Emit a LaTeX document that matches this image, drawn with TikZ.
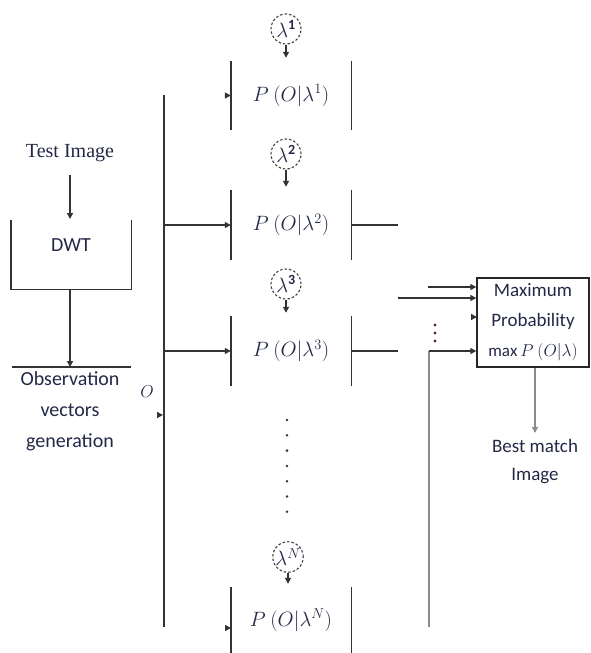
\documentclass[tikz,border=0pt]{standalone}
\usepackage{fontspec}
\setmainfont{Carlito}
\newfontfamily\serifface{Liberation Serif}
\usetikzlibrary{arrows.meta}
\definecolor{txt}{RGB}{35,40,70}
\definecolor{dotc}{RGB}{90,40,90}
\begin{document}
\begin{tikzpicture}[x=1pt,y=-1pt,
  ln/.style={line width=1.4pt, draw=black!80},
  gln/.style={line width=1.4pt, draw=black!45},
  tip/.style={-{Triangle[length=6pt,width=6pt]}},
  lam/.style={circle, draw=black!75, dash pattern=on 2.5pt off 2pt, line width=1.1pt, minimum size=30pt, inner sep=0pt, text=txt, font=\fontsize{20}{20}\selectfont},
  lbl/.style={font=\fontsize{20}{31}\selectfont, text=txt, align=center},
  pbox/.style={minimum width=120pt, inner sep=0pt, text=txt, font=\fontsize{20}{23}\selectfont},
]
\useasboundingbox (0,0) rectangle (590,653);

% left column
\node[lbl, font=\serifface\fontsize{20}{23}\selectfont] (test) at (70,153) {Test Image};
\node[minimum width=120pt, minimum height=69pt, inner sep=0pt] (dwt) at (71,254.5) {};
\node[lbl] (dwtlbl) at (71,245) {DWT};
\draw[ln] (dwt.north west) -- (dwt.south west) -- (dwt.south east) -- (dwt.north east);
\coordinate (dwttop) at (70,219);
\draw[ln,tip] (test.south -| dwttop) ++(0,-10pt) -- (dwttop);
\coordinate (obsL) at (12,367);
\coordinate (obsR) at (131,367);
\coordinate (obsM) at (70,367);
\draw[ln] (obsL) -- (obsR);
\draw[ln,tip] (dwt.south -| obsM) -- (obsM);
\node[lbl, anchor=north] (obs) at (70,368) {Observation\\vectors\\generation};
\node[text=txt, font=\fontsize{19}{23}\selectfont] (olab) at (147,392) {$O$};

% bus
\coordinate (bustop) at (164,95);
\coordinate (busbot) at (164,627);
\draw[ln] (bustop) -- (busbot);
\coordinate (oarr) at (163,415);
\draw[ln,tip] ([xshift=-6pt]oarr) -- (oarr);

% probability boxes
\node[pbox, minimum height=69pt] (b1) at (291,95.5) {$P\ (O|\lambda^{1})$};
\node[pbox, minimum height=70pt] (b2) at (291,225) {$P\ (O|\lambda^{2})$};
\node[pbox, minimum height=70pt] (b3) at (291,351) {$P\ (O|\lambda^{3})$};
\node[pbox, minimum height=66pt] (bN) at (291,620) {$P\ (O|\lambda^{N})$};
\foreach \b in {b1,b2,b3,bN}{
  \draw[ln] (\b.north west) -- (\b.south west);
  \draw[ln] (\b.north east) -- (\b.south east);
}

% lambda circles
\node[lam] (l1) at (286,29) {$\lambda^{\mathbf{1}}$};
\node[lam] (l2) at (286,154) {$\lambda^{\mathbf{2}}$};
\node[lam] (l3) at (286,284) {$\lambda^{\mathbf{3}}$};
\node[lam] (lN) at (288,557) {$\lambda^{N}$};
\draw[ln,tip] (l1.south) -- ([yshift=3pt]l1.south |- b1.north);
\draw[ln,tip] (l2.south) -- ([yshift=3pt]l2.south |- b2.north);
\draw[ln,tip] (l3.south) -- ([yshift=3pt]l3.south |- b3.north);
\draw[ln,tip] (lN.south) -- ([yshift=3pt]lN.south |- bN.north);

% inputs to boxes
\draw[ln,tip] ([xshift=-6pt]b1.west) -- (b1.west);
\draw[ln,tip] (bustop |- b2.west) -- (b2.west);
\draw[ln,tip] (bustop |- b3.west) -- (b3.west);
\coordinate (bNin) at (231,628);
\draw[ln,tip] ([xshift=-6pt]bNin) -- (bNin);

% outputs
\coordinate (o2) at (398,225);
\coordinate (o3) at (398,351);
\draw[ln] (b2.east) -- (o2);
\draw[ln] (b3.east) -- (o3);

% middle dots
\foreach \i in {0,...,6}{
  \fill[black!80] (287,420+15.3*\i) circle (1.4pt);
}

% maximum box
\node[draw=black!85, line width=1.4pt, minimum width=112pt, minimum height=89pt, inner sep=0pt,
      text=txt, align=center, font=\fontsize{19}{30}\selectfont] (maxb) at (533,322.5)
  {Maximum\\Probability\\{\fontsize{17}{17}\selectfont$\max P\ (O|\lambda)$}};

\coordinate (m1) at (428,287);
\coordinate (m2) at (398,298);
\coordinate (m3) at (429,351);
\coordinate (m3b) at (429,627);
\draw[ln,tip] (m1) -- (m1 -| maxb.west);
\draw[ln,tip] (m2) -- (m2 -| maxb.west);
\coordinate (m4) at (477,317);
\draw[ln,tip] ([xshift=-6pt]m4) -- (m4);
\draw[gln] (m3b) -- (m3);
\draw[ln,tip] (m3) -- (m3 -| maxb.west);

% right dots
\foreach \i in {0,1,2}{
  \fill[dotc] (435,325+8*\i) circle (1.6pt);
}

% output
\coordinate (bm) at (535,433);
\draw[gln,tip] (maxb.south -| bm) -- (bm);
\node[lbl, font=\fontsize{19}{28}\selectfont, anchor=north] (best) at (535,436) {Best match\\Image};
\end{tikzpicture}
\end{document}
